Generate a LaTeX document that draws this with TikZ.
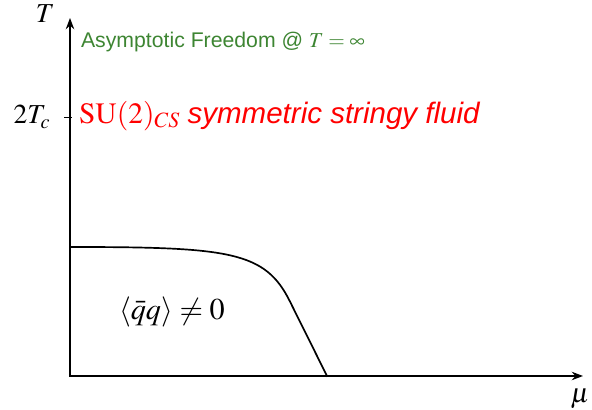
\documentclass[tikz,border=0pt]{standalone}
\usepackage{mathptmx}
\usepackage{fontspec}
\setmainfont{Liberation Serif}
\setsansfont{Liberation Sans}
\usetikzlibrary{arrows.meta, positioning}
\definecolor{afgreen}{RGB}{61,133,50}
\tikzset{
  axis/.style={line width=1.3pt, -{Stealth[length=8pt,width=6pt]}},
  axlabel/.style={font=\fontsize{19.5}{23}\selectfont, inner sep=1pt},
}

\begin{document}
\begin{tikzpicture}[line cap=rect,
    phase/.style={font=\fontsize{21.5}{25}\selectfont},
    green text/.style={font=\sffamily\fontsize{15.1}{18}\selectfont, text=afgreen, anchor=west, inner sep=0pt},
    red text/.style={font=\fontsize{21}{25}\selectfont, text=red, anchor=west, inner sep=0pt}]

  \useasboundingbox (-1.75,-0.85) rectangle (13.05,9.4);

  % --- Axes ---
  \coordinate (o) at (0,0);
  \coordinate (ytop) at (0,8.95);
  \coordinate (xend) at (12.825,0);
  \draw[axis] (o) -- (ytop);
  \draw[axis] (o) -- (xend);

  \node[axlabel] (T) at (-0.62,9.05) {$T$};
  \node[axlabel] (mu) at (12.75,-0.58) {$\mu$};

  % --- Tick at 2T_c ---
  \coordinate (tick) at (0,6.475);
  \draw[line width=0.6pt] ([xshift=-0.13cm]tick) -- ([xshift=0.05cm]tick);
  \node[axlabel, left=0.45cm of tick] (tc) {$2T_c$};

  % --- Texts ---
  \node[green text] (af) at (0.27,8.35) {Asymptotic Freedom @ $T=\infty$};
  \node[red text] (su) at (0.22,6.5) {$\mathrm{SU}(2)_{CS}$ \textsf{\itshape symmetric stringy fluid}};

  % --- Phase boundary ---
  \coordinate (b0) at (0,3.225);
  \coordinate (b1) at (5.5,1.86);
  \coordinate (b2) at (6.425,0);
  \draw[line width=1.2pt] (b0) .. controls (4.0,3.225) and (4.88,3.116) .. (b1) -- (b2);

  \node[phase] (cond) at (2.55,1.6) {$\langle\bar{q}q\rangle \neq 0$};

\end{tikzpicture}
\end{document}
